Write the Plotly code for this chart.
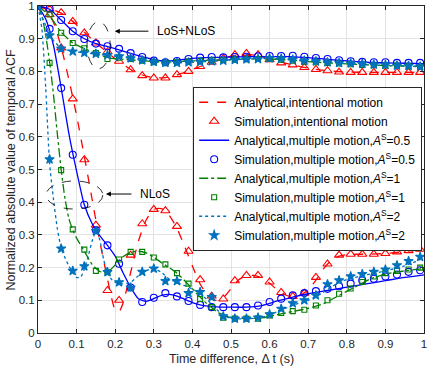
import plotly.graph_objects as go

# simulation sample times (every 0.03 s)
t_sim = [round(0.03 * i, 2) for i in range(34)]

# ---- LoS+NLoS group ----
red_los_x = [0, 0.03, 0.06, 0.09, 0.12, 0.15, 0.18, 0.21, 0.24, 0.27, 0.30, 0.33, 0.36, 0.39, 0.42, 0.45,
             0.48, 0.51, 0.54, 0.57, 0.60, 0.63, 0.66, 0.69, 0.72, 0.75, 0.80, 0.90, 1.0]
red_los_y = [1, 0.992, 0.978, 0.953, 0.92, 0.887, 0.858, 0.83, 0.806, 0.789, 0.781, 0.781, 0.789, 0.801, 0.815,
             0.828, 0.84, 0.849, 0.852, 0.848, 0.838, 0.828, 0.82, 0.812, 0.806, 0.802, 0.798, 0.797, 0.797]
red_los_sim = [1, 0.99, 0.98, 0.953, 0.918, 0.887, 0.86, 0.831, 0.805, 0.787, 0.78, 0.78, 0.79, 0.80, 0.815, 0.828,
               0.84, 0.851, 0.855, 0.851, 0.836, 0.826, 0.82, 0.812, 0.806, 0.802, 0.798, 0.797, 0.797, 0.797,
               0.797, 0.797, 0.797, 0.797]

blue_los_x = [0, 0.03, 0.06, 0.09, 0.12, 0.15, 0.18, 0.21, 0.24, 0.27, 0.30, 0.33, 0.36, 0.40, 0.45, 0.50,
              0.55, 0.60, 0.65, 0.70, 0.75, 0.80, 0.85, 0.90, 0.95, 1.0]
blue_los_y = [1, 0.99, 0.957, 0.923, 0.9, 0.885, 0.876, 0.866, 0.855, 0.845, 0.836, 0.832, 0.834, 0.84, 0.843,
              0.844, 0.845, 0.845, 0.845, 0.842, 0.837, 0.832, 0.828, 0.826, 0.825, 0.824]
blue_los_sim = [1, 0.992, 0.957, 0.923, 0.899, 0.885, 0.877, 0.869, 0.856, 0.844, 0.833, 0.828, 0.832, 0.838,
                0.842, 0.844, 0.843, 0.844, 0.845, 0.846, 0.847, 0.847, 0.848, 0.845, 0.841, 0.838, 0.834, 0.831,
                0.829, 0.828, 0.828, 0.826, 0.826, 0.826]

green_los_x = [0, 0.03, 0.06, 0.09, 0.12, 0.15, 0.18, 0.21, 0.24, 0.27, 0.30, 0.33, 0.36, 0.40, 0.45, 0.50,
               0.55, 0.60, 0.65, 0.70, 0.75, 0.80, 0.85, 0.90, 1.0]
green_los_y = [1, 0.97, 0.92, 0.887, 0.87, 0.855, 0.842, 0.838, 0.835, 0.833, 0.83, 0.828, 0.83, 0.832, 0.834,
               0.836, 0.838, 0.838, 0.835, 0.83, 0.826, 0.823, 0.82, 0.818, 0.815]
green_los_sim = [1, 0.974, 0.918, 0.887, 0.871, 0.856, 0.838, 0.842, 0.838, 0.833, 0.828, 0.826, 0.828, 0.83,
                 0.832, 0.834, 0.835, 0.836, 0.837, 0.838, 0.838, 0.836, 0.833, 0.83, 0.828, 0.826, 0.824, 0.822,
                 0.82, 0.819, 0.818, 0.817, 0.816, 0.814]

cyan_los_x = [0, 0.02, 0.04, 0.06, 0.09, 0.12, 0.15, 0.18, 0.21, 0.24, 0.27, 0.30, 0.33, 0.36, 0.40, 0.45,
              0.50, 0.55, 0.60, 0.65, 0.70, 0.75, 0.80, 0.85, 0.90, 0.95, 1.0]
cyan_los_y = [1, 0.94, 0.895, 0.872, 0.861, 0.857, 0.853, 0.849, 0.845, 0.84, 0.834, 0.829, 0.826, 0.826, 0.828,
              0.831, 0.835, 0.838, 0.84, 0.836, 0.831, 0.827, 0.824, 0.821, 0.818, 0.816, 0.814]
cyan_los_sim = [1, 0.91, 0.87, 0.861, 0.857, 0.854, 0.85, 0.846, 0.84, 0.834, 0.829, 0.826, 0.826, 0.828, 0.829,
                0.831, 0.833, 0.835, 0.837, 0.838, 0.84, 0.839, 0.836, 0.833, 0.831, 0.828, 0.826, 0.825, 0.823,
                0.821, 0.82, 0.818, 0.817, 0.815]

# ---- NLoS group ----
red_nlos_x = [0, 0.02, 0.04, 0.06, 0.08, 0.10, 0.12, 0.14, 0.16, 0.18, 0.19, 0.20, 0.21, 0.22, 0.24, 0.26,
              0.28, 0.30, 0.32, 0.34, 0.36, 0.38, 0.40, 0.42, 0.44, 0.46, 0.48, 0.50, 0.52, 0.54, 0.56, 0.58,
              0.60, 0.62, 0.64, 0.66, 0.68, 0.70, 0.72, 0.74, 0.76, 0.78, 0.80, 0.85, 0.90, 0.95, 1.0]
red_nlos_y = [1, 0.99, 0.95, 0.875, 0.775, 0.665, 0.54, 0.41, 0.28, 0.165, 0.11, 0.07, 0.065, 0.09, 0.185, 0.28,
              0.345, 0.378, 0.38, 0.36, 0.32, 0.265, 0.205, 0.15, 0.115, 0.1, 0.108, 0.135, 0.163, 0.175, 0.176,
              0.168, 0.152, 0.132, 0.117, 0.11, 0.115, 0.132, 0.162, 0.197, 0.222, 0.235, 0.24, 0.241, 0.243,
              0.249, 0.257]
red_nlos_sim = [1, 0.974, 0.872, 0.716, 0.53, 0.33, 0.13, 0.10, 0.238, 0.334, 0.378, 0.374, 0.326, 0.25, 0.163,
                0.113, 0.104, 0.16, 0.176, 0.176, 0.156, 0.124, 0.112, 0.122, 0.17, 0.211, 0.238, 0.241, 0.241,
                0.241, 0.243, 0.248, 0.252, 0.256]

blue_nlos_x = [0, 0.02, 0.04, 0.06, 0.08, 0.10, 0.12, 0.14, 0.16, 0.18, 0.20, 0.22, 0.24, 0.26, 0.28, 0.30,
               0.32, 0.34, 0.36, 0.38, 0.40, 0.42, 0.44, 0.46, 0.50, 0.54, 0.58, 0.62, 0.66, 0.70, 0.75, 0.80,
               0.85, 0.90, 0.95, 1.0]
blue_nlos_y = [1, 0.96, 0.88, 0.75, 0.61, 0.495, 0.392, 0.335, 0.298, 0.268, 0.235, 0.185, 0.14, 0.105, 0.097,
               0.105, 0.115, 0.118, 0.113, 0.103, 0.093, 0.086, 0.082, 0.08, 0.079, 0.079, 0.084, 0.098, 0.11,
               0.12, 0.13, 0.14, 0.15, 0.16, 0.17, 0.178]
blue_nlos_sim = [1, 0.93, 0.749, 0.545, 0.392, 0.314, 0.268, 0.212, 0.139, 0.095, 0.108, 0.122, 0.112, 0.098,
                 0.086, 0.079, 0.079, 0.079, 0.079, 0.084, 0.095, 0.105, 0.115, 0.122, 0.128, 0.135, 0.143, 0.151,
                 0.161, 0.166, 0.173, 0.179, 0.187, 0.192]

green_nlos_x = [0, 0.01, 0.02, 0.03, 0.04, 0.05, 0.06, 0.07, 0.08, 0.09, 0.10, 0.12, 0.14, 0.16, 0.18, 0.20,
                0.22, 0.24, 0.26, 0.28, 0.30, 0.32, 0.34, 0.36, 0.38, 0.40, 0.42, 0.44, 0.46, 0.48, 0.50, 0.54,
                0.58, 0.62, 0.66, 0.70, 0.74, 0.78, 0.82, 0.86, 0.90, 0.95, 1.0]
green_nlos_y = [1, 0.97, 0.91, 0.83, 0.73, 0.61, 0.5, 0.41, 0.35, 0.315, 0.29, 0.25, 0.21, 0.188, 0.186, 0.208,
                0.233, 0.247, 0.25, 0.245, 0.232, 0.215, 0.2, 0.183, 0.16, 0.135, 0.11, 0.087, 0.068, 0.054,
                0.047, 0.044, 0.046, 0.056, 0.066, 0.075, 0.09, 0.115, 0.14, 0.165, 0.18, 0.19, 0.197]
green_nlos_sim = [1, 0.826, 0.498, 0.317, 0.255, 0.19, 0.186, 0.225, 0.248, 0.248, 0.231, 0.21, 0.183, 0.151,
                  0.104, 0.079, 0.047, 0.044, 0.044, 0.044, 0.054, 0.061, 0.067, 0.071, 0.084, 0.10, 0.12, 0.136,
                  0.156, 0.173, 0.183, 0.19, 0.194, 0.20]

cyan_nlos_x = [0, 0.01, 0.02, 0.03, 0.04, 0.05, 0.06, 0.07, 0.08, 0.09, 0.10, 0.11, 0.12, 0.13, 0.14, 0.15,
               0.16, 0.17, 0.18, 0.19, 0.20, 0.22, 0.24, 0.26, 0.28, 0.30, 0.32, 0.34, 0.36, 0.38, 0.40, 0.42,
               0.44, 0.46, 0.48, 0.50, 0.54, 0.58, 0.62, 0.66, 0.70, 0.74, 0.78, 0.82, 0.86, 0.90, 0.95, 1.0]
cyan_nlos_y = [1, 0.93, 0.75, 0.52, 0.41, 0.32, 0.26, 0.23, 0.205, 0.185, 0.17, 0.17, 0.195, 0.235, 0.28, 0.31,
               0.285, 0.225, 0.185, 0.165, 0.155, 0.15, 0.155, 0.175, 0.19, 0.197, 0.185, 0.165, 0.155, 0.145,
               0.135, 0.12, 0.1, 0.075, 0.055, 0.045, 0.043, 0.048, 0.065, 0.085, 0.1, 0.125, 0.155, 0.17, 0.18,
               0.19, 0.205, 0.23]
cyan_nlos_sim = [1, 0.531, 0.258, 0.19, 0.204, 0.312, 0.186, 0.155, 0.139, 0.187, 0.197, 0.159, 0.159, 0.122,
                 0.125, 0.11, 0.051, 0.044, 0.044, 0.047, 0.057, 0.074, 0.091, 0.10, 0.115, 0.149, 0.161, 0.173,
                 0.18, 0.187, 0.194, 0.207, 0.22, 0.233]

tick_text = ["0", "0.1", "0.2", "0.3", "0.4", "0.5", "0.6", "0.7", "0.8", "0.9", "1"]

RED = "rgb(255,0,0)"
BLUE = "rgb(0,0,255)"
GREEN = "rgb(0,127,0)"
CYAN = "rgb(0,114,189)"
INK = "#262626"

def joined(xa, ya, xb, yb):
    return list(xa) + [None] + list(xb), list(ya) + [None] + list(yb)

series = [
    ("intentional motion", RED, "dash", "triangle-up-open", 8, red_los_x, red_los_y, red_los_sim,
     red_nlos_x, red_nlos_y, red_nlos_sim),
    ("multiple motion,<i>A</i><sup>S</sup>=0.5", BLUE, "solid", "circle-open", 7, blue_los_x, blue_los_y,
     blue_los_sim, blue_nlos_x, blue_nlos_y, blue_nlos_sim),
    ("multiple motion,<i>A</i><sup>S</sup>=1", GREEN, "dashdot", "square-open", 5, green_los_x, green_los_y,
     green_los_sim, green_nlos_x, green_nlos_y, green_nlos_sim),
    ("multiple motion,<i>A</i><sup>S</sup>=2", CYAN, "dot", "star", 7, cyan_los_x, cyan_los_y, cyan_los_sim,
     cyan_nlos_x, cyan_nlos_y, cyan_nlos_sim),
]

fig = go.Figure()
for name, col, dash, sym, msz, lx, ly, lsim, nx, ny, nsim in series:
    ax, ay = joined(lx, ly, nx, ny)
    fig.add_trace(go.Scatter(x=ax, y=ay, mode="lines", name="Analytical," + name,
                             line=dict(color=col, dash=dash, width=1.3, shape="spline", smoothing=0.6)))
    fig.add_trace(go.Scatter(x=t_sim + t_sim, y=lsim + nsim, mode="markers", name="Simulation," + name,
                             marker=dict(symbol=sym, size=msz, color=col, line=dict(color=col, width=1.1))))

# dashed ellipses + arrows
fig.add_shape(type="circle", xref="x", yref="y", x0=0.127, x1=0.187, y0=0.808, y1=0.952,
              line=dict(color="black", width=0.8, dash="dash"))
fig.add_shape(type="circle", xref="x", yref="y", x0=0.021, x1=0.168, y0=0.379, y1=0.465,
              line=dict(color="black", width=0.8, dash="dash"))
for hx, tx, yy, txt in [(0.199, 0.29, 0.923, "LoS+NLoS"), (0.176, 0.246, 0.425, "NLoS")]:
    fig.add_annotation(x=hx, y=yy, ax=tx, ay=yy, axref="x", ayref="y", text="", showarrow=True,
                       arrowhead=2, arrowsize=1, arrowwidth=1, arrowcolor="black")
    fig.add_annotation(x=tx + 0.012, y=yy, text=txt, showarrow=False, xanchor="left",
                       font=dict(size=12, color="black"))

# axis titles
fig.add_annotation(xref="paper", yref="paper", x=0.5, y=-0.078, yanchor="middle", showarrow=False,
                   text="Time difference, \u0394 t (s)", font=dict(size=12.5, color=INK))
fig.add_annotation(xref="paper", yref="paper", x=-0.07, y=0.5, xanchor="center", textangle=-90,
                   showarrow=False, text="Normalized absolute value of temporal ACF",
                   font=dict(size=12.5, color=INK))

axis_common = dict(showline=True, linecolor=INK, linewidth=1, mirror="ticks", ticks="inside",
                   ticklen=4, tickcolor=INK, showgrid=True, gridcolor="#e3e3e3", zeroline=False,
                   tickfont=dict(size=11.5, color=INK), automargin=False, range=[0, 1],
                   tickvals=[i / 10 for i in range(11)], ticktext=tick_text,
                   ticklabeloverflow="allow")
fig.update_xaxes(**axis_common)
fig.update_yaxes(**axis_common)

fig.update_layout(
    width=428, height=370,
    margin=dict(l=38, r=4, t=6, b=37),
    plot_bgcolor="white", paper_bgcolor="white",
    font=dict(family="Liberation Sans, Arial, sans-serif", size=11, color="black"),
    legend=dict(x=0.402, y=0.753, xanchor="left", yanchor="top", bgcolor="white",
                bordercolor=INK, borderwidth=1, font=dict(size=12), tracegroupgap=0,
                itemwidth=30),
    showlegend=True,
)

fig.write_html("out.html", config={"displayModeBar": False},
               post_script="document.body.style.margin='0';")
